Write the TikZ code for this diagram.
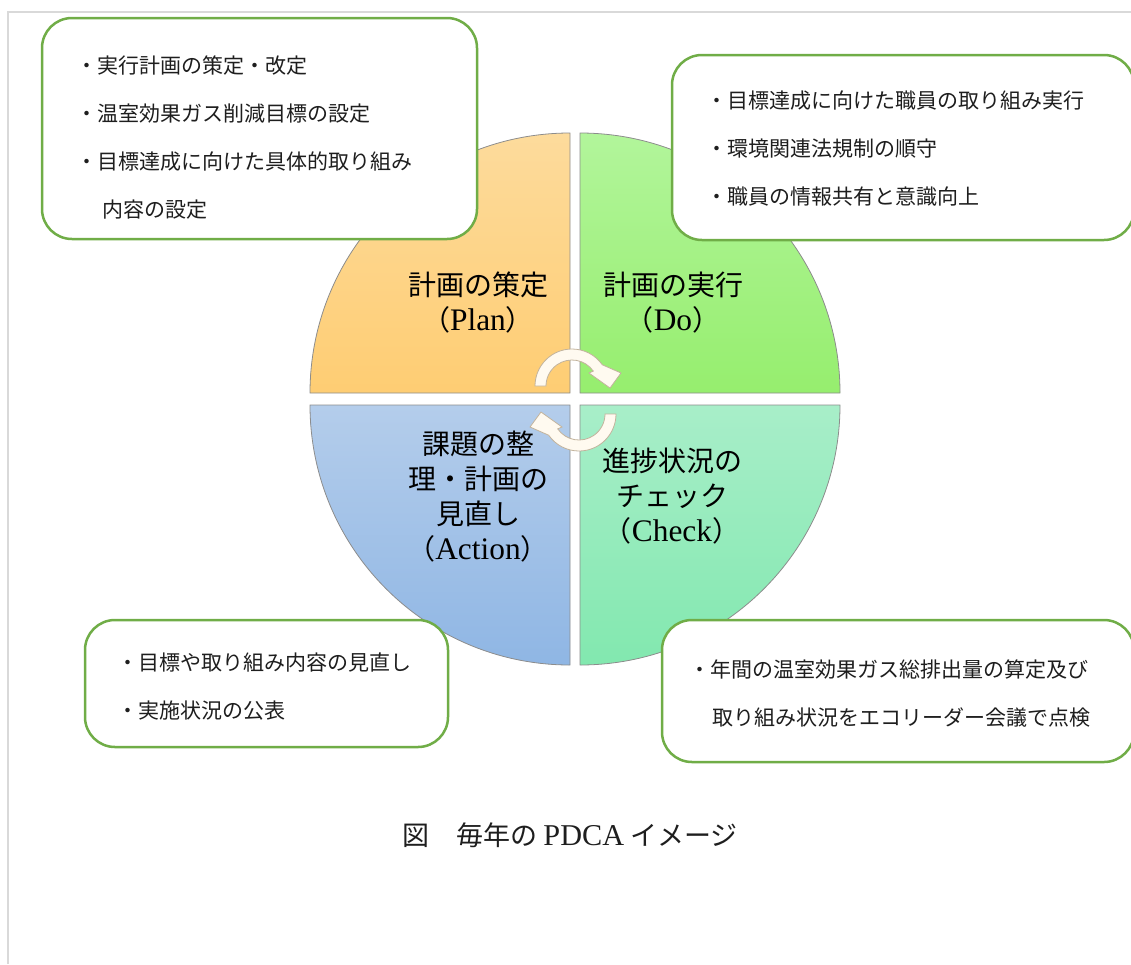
\documentclass[tikz,border=0pt]{standalone}
\usepackage{fontspec}
\usepackage{tikz}
\newfontfamily\jpfont{Noto Sans CJK JP}
\newfontfamily\latinfont[Scale=1.12]{Liberation Serif}
\newcommand\zenparen[1]{（{\latinfont #1}）}
\definecolor{boxgreen}{HTML}{70AD47}
\definecolor{framegray}{HTML}{D9D9D9}
\definecolor{quartergray}{HTML}{8C8C8C}
\definecolor{textgray}{HTML}{1E1E1E}
\definecolor{arrowfill}{HTML}{FFFAF0}
\definecolor{arrowedge}{HTML}{C2B39C}
\definecolor{planTop}{HTML}{FDDB9C}
\definecolor{planBot}{HTML}{FECD73}
\definecolor{doTop}{HTML}{B2F59B}
\definecolor{doBot}{HTML}{96EE6E}
\definecolor{actTop}{HTML}{B4CDEB}
\definecolor{actBot}{HTML}{8FB6E4}
\definecolor{chkTop}{HTML}{A8EEC9}
\definecolor{chkBot}{HTML}{82E8AF}
\tikzset{
  notebox/.style={draw=boxgreen, line width=2.5pt, fill=white, rounded corners=30pt, inner sep=0pt},
  notetext/.style={anchor=west, align=left, inner sep=0pt, text=textgray, font=\jpfont\fontsize{21pt}{48pt}\selectfont},
  steplabel/.style={align=center, inner sep=0pt, text=black, font=\jpfont\fontsize{28pt}{35pt}\selectfont},
  quarter/.style={draw=quartergray, line width=0.8pt},
  turnarrow/.style={fill=arrowfill, draw=arrowedge, line width=0.8pt},
  cyclearrow/.pic={
    \path[turnarrow] (-37,0) arc[start angle=180, end angle=325, radius=37] -- (49,-13) -- (38,2) -- (17,-13) -- (325:26) arc[start angle=325, end angle=180, radius=26] -- cycle;
  }
}

\begin{document}
\begin{tikzpicture}[x=1pt, y=-1pt]
                \useasboundingbox (0,0) rectangle (1131,964);
                \draw[framegray, line width=1.5pt] (8,964) -- (8,12) -- (1131,12);
                % the four quarters
                \shade[quarter, top color=planTop, bottom color=planBot] (570,393) -- (310,393) arc[start angle=180, end angle=270, radius=260] -- cycle;
                \shade[quarter, top color=doTop, bottom color=doBot] (580,393) -- (840,393) arc[start angle=0, end angle=-90, radius=260] -- cycle;
                \shade[quarter, top color=actTop, bottom color=actBot] (570,405) -- (310,405) arc[start angle=180, end angle=90, radius=260] -- cycle;
                \shade[quarter, top color=chkTop, bottom color=chkBot] (580,405) -- (840,405) arc[start angle=0, end angle=90, radius=260] -- cycle;
                \pic at (572,386) {cyclearrow};
                \pic[rotate=180] at (579,414) {cyclearrow};
                \node[steplabel] (plan) at (478,302.5) {計画の策定\\\zenparen{Plan}};
                \node[steplabel] (do) at (673,302.5) {計画の実行\\\zenparen{Do}};
                \node[steplabel] (act) at (478,496.5) {課題の整\\理・計画の\\見直し\\\zenparen{Action}};
                \node[steplabel] (check) at (672,496.5) {進捗状況の\\チェック\\\zenparen{Check}};
                % notes round the circle
                \node[notebox, minimum width=435, minimum height=221] (planbox) at (259.5,128.5) {};
                \node[notetext] (plannote) at (76,137.5) {・実行計画の策定・改定\\・温室効果ガス削減目標の設定\\・目標達成に向けた具体的取り組み\\\hspace{26pt}内容の設定};
                \node[notebox, minimum width=462, minimum height=185] (dobox) at (903,147.5) {};
                \node[notetext] (donote) at (706,148.5) {・目標達成に向けた職員の取り組み実行\\・環境関連法規制の順守\\・職員の情報共有と意識向上};
                \node[notebox, minimum width=363, minimum height=127] (actbox) at (266.5,683.5) {};
                \node[notetext] (actnote) at (117,686.5) {・目標や取り組み内容の見直し\\・実施状況の公表};
                \node[notebox, minimum width=472, minimum height=142] (checkbox) at (898,691) {};
                \node[notetext] (checknote) at (689,694) {・年間の温室効果ガス総排出量の算定及び\\\hspace{23pt}取り組み状況をエコリーダー会議で点検};
                \node[text=textgray, inner sep=0pt, font=\jpfont\fontsize{27pt}{32pt}\selectfont] (caption) at (570,835) {図　毎年の {\latinfont PDCA} イメージ};
            \end{tikzpicture}
\end{document}
